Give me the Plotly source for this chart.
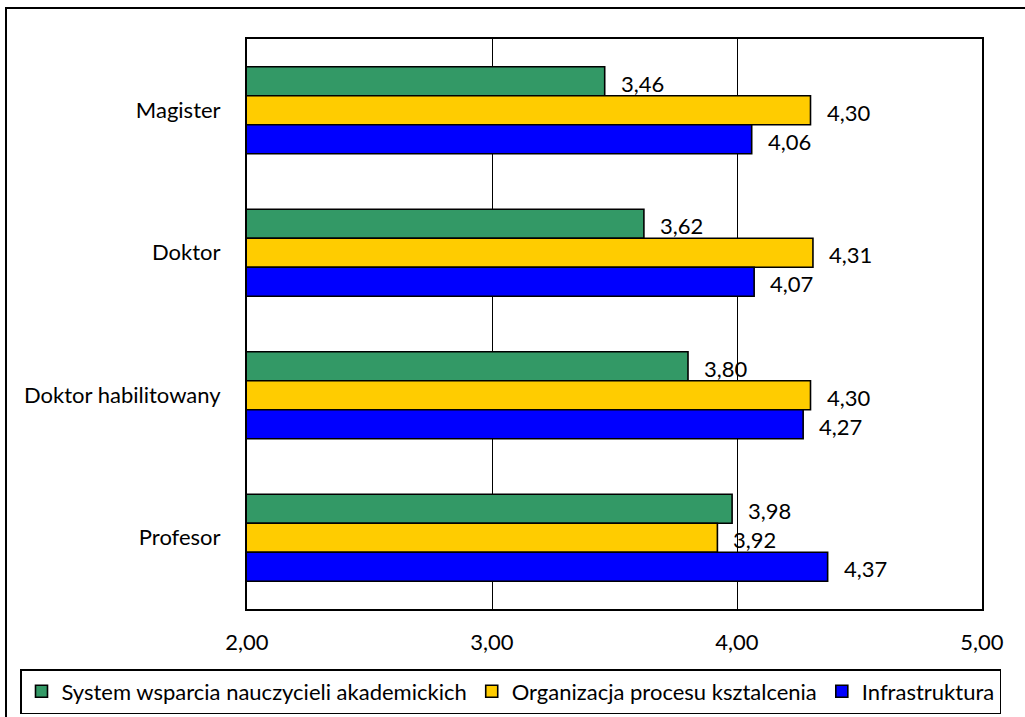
import plotly.graph_objects as go

categories = ["Magister", "Doktor", "Doktor habilitowany", "Profesor"]
series_names = ["System wsparcia nauczycieli akademickich", "Organizacja procesu ksztalcenia", "Infrastruktura"]
system_vals = [3.46, 3.62, 3.80, 3.98]
organizacja_vals = [4.30, 4.31, 4.30, 3.92]
infra_vals = [4.06, 4.07, 4.27, 4.37]
colors = ["#339966", "#FFCC00", "#0000FF"]
tick_vals = [2, 3, 4, 5]

FONT = "Lato, Carlito, Calibri, sans-serif"
FS = 22

fig = go.Figure()
all_vals = [system_vals, organizacja_vals, infra_vals]
for name, vals, col in zip(series_names, all_vals, colors):
    fig.add_trace(go.Bar(
        y=categories, x=vals, name=name, orientation="h",
        marker=dict(color=col, line=dict(color="black", width=1.6)),
    ))

# data labels
offsets = [-1, 0, 1]
annotations = []
for si, vals in enumerate(all_vals):
    for ci, v in enumerate(vals):
        annotations.append(dict(
            x=v, y=ci + offsets[si] * 0.2035, xref="x", yref="y",
            text=f"{v:.2f}".replace(".", ","), showarrow=False,
            xanchor="left", yanchor="middle", xshift=14, yshift=-2,
            font=dict(family=FONT, size=FS, color="black"),
        ))

L, T, R, B = 247, 39, 982, 609
PW, PH = R - L, B - T

fig.update_layout(
    width=1025, height=717,
    margin=dict(l=L, r=1025 - R, t=T, b=717 - B, autoexpand=False),
    paper_bgcolor="white", plot_bgcolor="white",
    barmode="group", bargap=0.39, bargroupgap=0,
    separators=",.",
    font=dict(family=FONT, size=FS, color="black"),
    showlegend=True,
    legend=dict(orientation="h", x=(20 - L) / PW, xanchor="left",
                y=-(669 - B) / PH, yanchor="top",
                bordercolor="black", borderwidth=1.5, font=dict(size=FS, family=FONT),
                itemwidth=30, tracegroupgap=0),
    annotations=annotations,
    shapes=[dict(type="rect", xref="paper", yref="paper",
                 x0=(6 - L) / PW, x1=(1040 - L) / PW,
                 y0=-(740 - B) / PH, y1=(B - 8) / PH,
                 line=dict(color="black", width=2), layer="below")],
)
fig.update_xaxes(range=[2, 5], tickvals=tick_vals,
                 ticktext=[f"{t:.2f}".replace(".", ",") for t in tick_vals],
                 showgrid=True, gridcolor="black", gridwidth=1,
                 showline=True, linecolor="black", linewidth=2, mirror=True,
                 zeroline=False, ticks="", ticklabelstandoff=13,
                 tickfont=dict(size=FS, family=FONT))
fig.update_yaxes(autorange="reversed", showline=True, linecolor="black", linewidth=2,
                 mirror=True, ticks="", ticklabelstandoff=20, showgrid=False,
                 tickfont=dict(size=FS, family=FONT))

fig.write_html("out.html", config={"displayModeBar": False},
               post_script="document.body.style.margin='0';")
